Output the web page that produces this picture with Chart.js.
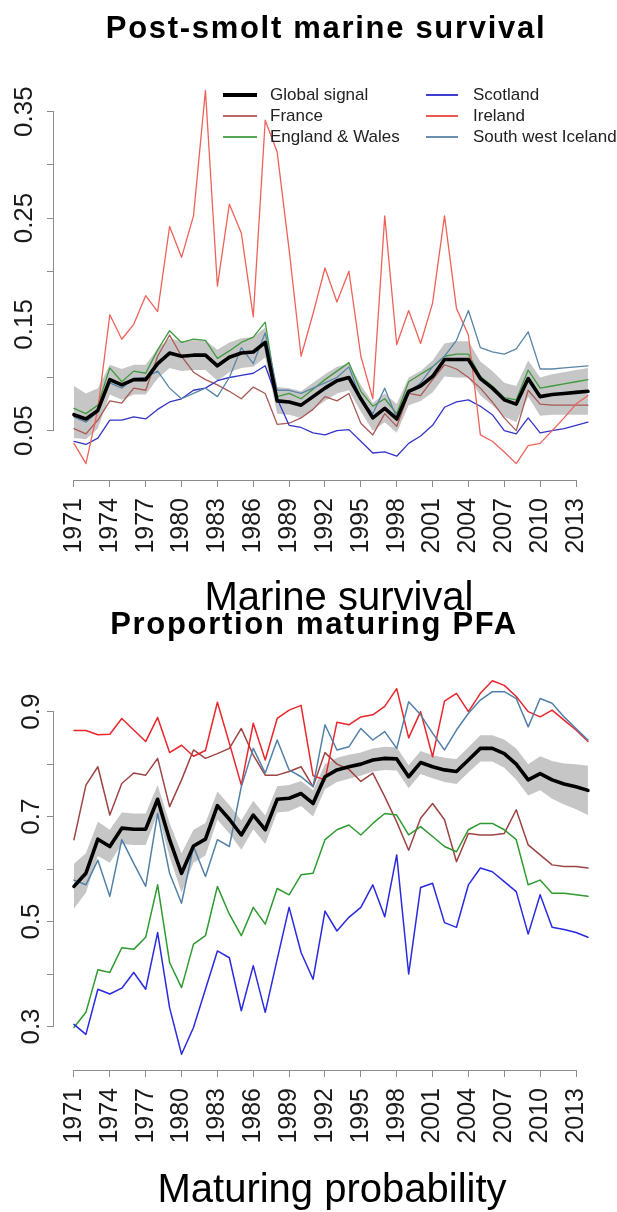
<!DOCTYPE html>
<html>
<head>
<meta charset="utf-8">
<script src="https://cdn.jsdelivr.net/npm/chart.js@4.4.1/dist/chart.umd.min.js"></script>
<style>
html,body{margin:0;padding:0;background:#fff;}
#wrap{position:relative;width:617px;height:1212px;overflow:hidden;font-family:"Liberation Sans",Arial,Helvetica,sans-serif;}
canvas{position:absolute;left:0;display:block;}
.t{position:absolute;white-space:nowrap;color:#000;z-index:5;}
.title{font-weight:bold;font-size:31px;line-height:31px;letter-spacing:1.7px;transform:translateX(-50%);}
.xlab{font-size:40px;line-height:40px;transform:translateX(-50%);}
.lg{position:absolute;font-size:17px;line-height:20px;color:#222;white-space:nowrap;z-index:5;}
.ll{position:absolute;z-index:5;}
</style>
</head>
<body>
<div id="wrap">
  <canvas id="c1" width="617" height="606" style="top:0px"></canvas>
  <canvas id="c2" width="617" height="606" style="top:606px"></canvas>

  <div class="t title" style="left:326px;top:12px;">Post-smolt marine survival</div>
  <div class="t xlab" style="left:339px;top:576px;">Marine survival</div>
  <div class="t title" style="left:314px;top:608px;">Proportion maturing PFA</div>
  <div class="t xlab" style="left:332px;top:1168px;">Maturing probability</div>

  <!-- legend (top panel) -->
  <div class="ll" style="left:223px;top:93px;width:34px;height:4px;background:#000;"></div>
  <div class="lg" style="left:270px;top:85px;">Global signal</div>
  <div class="ll" style="left:223px;top:115px;width:34px;height:2px;background:#b86a66;"></div>
  <div class="lg" style="left:270px;top:106px;">France</div>
  <div class="ll" style="left:223px;top:136px;width:34px;height:2px;background:#55a855;"></div>
  <div class="lg" style="left:270px;top:127px;">England &amp; Wales</div>
  <div class="ll" style="left:426px;top:94px;width:32px;height:2px;background:#3d3dd0;"></div>
  <div class="lg" style="left:473px;top:85px;">Scotland</div>
  <div class="ll" style="left:426px;top:115px;width:32px;height:2px;background:#ea5a52;"></div>
  <div class="lg" style="left:473px;top:106px;">Ireland</div>
  <div class="ll" style="left:426px;top:136px;width:32px;height:2px;background:#6a8fae;"></div>
  <div class="lg" style="left:473px;top:127px;">South west Iceland</div>
</div>

<script>
// ---------------- DATA ----------------
const years = [1971,1972,1973,1974,1975,1976,1977,1978,1979,1980,
               1981,1982,1983,1984,1985,1986,1987,1988,1989,1990,
               1991,1992,1993,1994,1995,1996,1997,1998,1999,2000,
               2001,2002,2003,2004,2005,2006,2007,2008,2009,2010,
               2011,2012,2013,2014];

const xTickYears = [1971,1974,1977,1980,1983,1986,1989,1992,1995,1998,2001,2004,2007,2010,2013];

// Panel 1: post-smolt marine survival
const msTickValues = [0.05,0.10,0.15,0.20,0.25,0.30,0.35];
const msTickLabels = ['0.05','','0.15','','0.25','','0.35'];

const msGlobal = [0.065,0.061,0.069,0.098,0.093,0.098,0.098,0.113,0.123,0.120,
                  0.121,0.121,0.111,0.119,0.123,0.124,0.133,0.078,0.077,0.074,
                  0.082,0.090,0.097,0.100,0.080,0.062,0.071,0.061,0.087,0.092,
                  0.101,0.117,0.117,0.117,0.099,0.090,0.079,0.075,0.099,0.082,
                  0.084,0.085,0.086,0.087];
const msGlobalUpper = [0.092,0.085,0.090,0.112,0.108,0.112,0.112,0.127,0.137,0.134,
                       0.135,0.135,0.126,0.133,0.137,0.138,0.147,0.091,0.090,0.087,
                       0.095,0.103,0.110,0.113,0.093,0.076,0.085,0.075,0.100,0.106,
                       0.116,0.132,0.134,0.134,0.115,0.106,0.095,0.092,0.116,0.100,
                       0.103,0.105,0.107,0.109];
const msGlobalLower = [0.043,0.042,0.052,0.084,0.079,0.084,0.084,0.099,0.109,0.106,
                       0.107,0.107,0.097,0.105,0.109,0.110,0.119,0.066,0.065,0.062,
                       0.070,0.078,0.085,0.088,0.068,0.050,0.058,0.048,0.074,0.078,
                       0.086,0.101,0.100,0.100,0.083,0.074,0.063,0.058,0.082,0.064,
                       0.065,0.065,0.065,0.065];
const msFrance = [0.052,0.047,0.060,0.078,0.076,0.090,0.088,0.120,0.140,0.120,
                  0.105,0.098,0.093,0.087,0.080,0.091,0.085,0.056,0.057,0.062,
                  0.070,0.082,0.078,0.085,0.057,0.046,0.066,0.054,0.085,0.083,
                  0.098,0.112,0.108,0.100,0.090,0.077,0.062,0.050,0.088,0.075,
                  0.074,0.074,0.074,0.074];
const msEngland = [0.071,0.066,0.074,0.109,0.096,0.106,0.104,0.126,0.144,0.133,
                   0.136,0.135,0.118,0.125,0.133,0.138,0.152,0.082,0.085,0.080,
                   0.089,0.098,0.106,0.114,0.087,0.073,0.080,0.066,0.096,0.103,
                   0.110,0.120,0.122,0.122,0.101,0.092,0.081,0.079,0.107,0.090,
                   0.092,0.094,0.096,0.098];
const msScotland = [0.040,0.037,0.043,0.060,0.060,0.063,0.061,0.070,0.077,0.080,
                    0.088,0.090,0.097,0.100,0.102,0.104,0.111,0.080,0.055,0.053,
                    0.048,0.046,0.050,0.051,0.040,0.029,0.030,0.026,0.038,0.045,
                    0.055,0.072,0.077,0.079,0.073,0.065,0.050,0.047,0.062,0.048,
                    0.050,0.052,0.055,0.058];
const msIreland = [0.038,0.019,0.070,0.159,0.136,0.150,0.177,0.162,0.242,0.213,
                   0.252,0.370,0.186,0.263,0.236,0.157,0.342,0.312,0.220,0.120,
                   0.160,0.203,0.171,0.200,0.120,0.080,0.252,0.131,0.163,0.132,
                   0.170,0.252,0.165,0.140,0.046,0.040,0.030,0.019,0.036,0.038,
                   0.050,0.062,0.075,0.083];
const msIceland = [0.063,0.058,0.068,0.095,0.090,0.099,0.100,0.106,0.090,0.080,
                   0.085,0.090,0.082,0.100,0.128,0.113,0.142,0.088,0.088,0.085,
                   0.090,0.095,0.100,0.110,0.080,0.066,0.090,0.062,0.085,0.095,
                   0.110,0.120,0.135,0.163,0.128,0.124,0.122,0.127,0.143,0.108,
                   0.108,0.109,0.110,0.111];

// Panel 2: proportion maturing PFA
const mpTickValues = [0.3,0.4,0.5,0.6,0.7,0.8,0.9];
const mpTickLabels = ['0.3','','0.5','','0.7','','0.9'];

const mpGlobal = [0.567,0.592,0.657,0.643,0.678,0.676,0.676,0.733,0.656,0.592,
                  0.644,0.657,0.721,0.695,0.665,0.703,0.675,0.733,0.735,0.744,
                  0.725,0.776,0.789,0.795,0.800,0.808,0.811,0.810,0.776,0.803,
                  0.795,0.789,0.786,0.808,0.830,0.830,0.820,0.800,0.770,0.782,
                  0.770,0.762,0.757,0.750];
const mpGlobalUpper = [0.610,0.630,0.690,0.675,0.708,0.706,0.706,0.760,0.688,0.630,
                       0.675,0.688,0.748,0.722,0.693,0.730,0.702,0.758,0.760,0.768,
                       0.750,0.800,0.812,0.818,0.822,0.830,0.833,0.832,0.798,0.825,
                       0.817,0.812,0.810,0.832,0.855,0.855,0.847,0.830,0.800,0.815,
                       0.806,0.801,0.800,0.797];
const mpGlobalLower = [0.525,0.555,0.625,0.612,0.648,0.646,0.646,0.706,0.624,0.555,
                       0.612,0.626,0.694,0.668,0.637,0.676,0.648,0.708,0.710,0.720,
                       0.700,0.752,0.766,0.772,0.778,0.786,0.789,0.788,0.754,0.781,
                       0.773,0.766,0.762,0.784,0.805,0.805,0.793,0.770,0.740,0.750,
                       0.734,0.723,0.714,0.703];
const mpFrance = [0.656,0.760,0.795,0.703,0.763,0.783,0.779,0.811,0.719,0.770,
                  0.827,0.811,0.820,0.830,0.868,0.817,0.779,0.779,0.786,0.795,
                  0.757,0.822,0.800,0.790,0.767,0.783,0.738,0.690,0.636,0.697,
                  0.725,0.694,0.614,0.668,0.665,0.665,0.668,0.713,0.646,0.627,
                  0.608,0.605,0.605,0.602];
const mpEngland = [0.298,0.327,0.408,0.403,0.450,0.447,0.470,0.570,0.422,0.374,
                   0.457,0.473,0.567,0.514,0.473,0.527,0.495,0.563,0.551,0.589,
                   0.592,0.656,0.675,0.684,0.665,0.687,0.706,0.703,0.665,0.681,
                   0.662,0.643,0.633,0.675,0.687,0.687,0.675,0.656,0.570,0.579,
                   0.554,0.554,0.551,0.548];
const mpScotland = [0.304,0.285,0.371,0.362,0.373,0.403,0.371,0.479,0.336,0.247,
                    0.298,0.371,0.444,0.431,0.330,0.416,0.327,0.428,0.527,0.441,
                    0.390,0.520,0.482,0.508,0.527,0.570,0.509,0.627,0.400,0.565,
                    0.573,0.498,0.489,0.570,0.602,0.595,0.576,0.557,0.476,0.551,
                    0.489,0.485,0.479,0.470];
const mpIreland = [0.864,0.864,0.856,0.857,0.887,0.865,0.843,0.889,0.822,0.836,
                   0.815,0.826,0.918,0.840,0.760,0.878,0.808,0.887,0.903,0.912,
                   0.778,0.770,0.880,0.875,0.890,0.894,0.910,0.944,0.850,0.900,
                   0.814,0.920,0.935,0.900,0.935,0.959,0.950,0.929,0.900,0.890,
                   0.903,0.884,0.865,0.843];
const mpIceland = [0.579,0.570,0.617,0.548,0.656,0.611,0.567,0.706,0.592,0.535,
                   0.643,0.586,0.656,0.643,0.757,0.830,0.783,0.846,0.789,0.776,
                   0.757,0.875,0.827,0.833,0.868,0.846,0.862,0.830,0.919,0.894,
                   0.859,0.827,0.865,0.897,0.922,0.938,0.938,0.925,0.871,0.925,
                   0.916,0.890,0.868,0.846];

// ---------------- RENDER ----------------
const FONT = '"Liberation Sans", Arial, Helvetica, sans-serif';
const AXIS_COLOR = '#8c8c8c';
const pts = arr => arr.map((v, i) => ({x: years[i], y: v}));

const rAxisPlugin = {
  id: 'rAxis',
  afterDraw(chart) {
    const {ctx, scales: {x, y}} = chart;
    ctx.save();
    ctx.strokeStyle = AXIS_COLOR;
    ctx.lineWidth = 1;
    const xa = x.getPixelForValue(x.ticks[0].value);
    const xb = x.getPixelForValue(x.ticks[x.ticks.length - 1].value);
    const ya = y.getPixelForValue(y.ticks[0].value);
    const yb = y.getPixelForValue(y.ticks[y.ticks.length - 1].value);
    ctx.beginPath();
    ctx.moveTo(xa, x.top + 0.5); ctx.lineTo(xb, x.top + 0.5);
    ctx.moveTo(y.right - 0.5, ya); ctx.lineTo(y.right - 0.5, yb);
    ctx.stroke();
    ctx.restore();
  }
};

function lineDS(label, arr, color, width, order) {
  return {label, data: pts(arr), borderColor: color, borderWidth: width,
          pointRadius: 0, fill: false, tension: 0, order,
          borderJoinStyle: 'round', borderCapStyle: 'round'};
}

function makeChart(id, cfg) {
  const ds = [
    {label: 'lower', data: pts(cfg.lower), borderWidth: 0, pointRadius: 0, fill: false,
     borderColor: 'rgba(0,0,0,0)', order: 30},
    {label: 'upper', data: pts(cfg.upper), borderWidth: 0, pointRadius: 0, fill: '-1',
     backgroundColor: '#c6c6c6', borderColor: 'rgba(0,0,0,0)', order: 29},
  ];
  cfg.series.forEach((s, i) => ds.push(lineDS(s[0], s[1], s[2], s[3], 20 - i)));
  ds.push(lineDS('Global signal', cfg.global, '#000000', 3.6, 1));

  return new Chart(document.getElementById(id), {
    type: 'line',
    data: {datasets: ds},
    plugins: [rAxisPlugin],
    options: {
      responsive: false, animation: false, devicePixelRatio: 1,
      layout: {padding: {left: 0, right: 0, top: cfg.padTop, bottom: 0}},
      plugins: {legend: {display: false}, tooltip: {enabled: false}},
      scales: {
        x: {
          type: 'linear', min: cfg.xmin, max: cfg.xmax,
          afterBuildTicks: s => { s.ticks = xTickYears.map(v => ({value: v})); },
          afterFit: s => { s.height = cfg.xAxisHeight; },
          grid: {display: true, drawOnChartArea: false, drawTicks: true, tickLength: 7,
                 color: AXIS_COLOR, lineWidth: 1},
          border: {display: false},
          ticks: {autoSkip: false, minRotation: 90, maxRotation: 90, padding: 11,
                  color: '#1a1a1a', font: {family: FONT, size: 25},
                  callback: v => String(v)}
        },
        y: {
          type: 'linear', min: cfg.ymin, max: cfg.ymax,
          afterBuildTicks: s => { s.ticks = cfg.yTicks.map(v => ({value: v})); },
          afterFit: s => { s.width = 54; },
          grid: {display: true, drawOnChartArea: false, drawTicks: true, tickLength: 7,
                 color: AXIS_COLOR, lineWidth: 1},
          border: {display: false},
          ticks: {autoSkip: false, minRotation: 90, maxRotation: 90, crossAlign: 'center',
                  padding: -3, color: '#1a1a1a', font: {family: FONT, size: 26},
                  callback: (v, i) => cfg.yLabels[i]}
        }
      }
    }
  });
}

makeChart('c1', {
  lower: msGlobalLower, upper: msGlobalUpper, global: msGlobal,
  series: [
    ['France', msFrance, '#a85a54', 1.3],
    ['England & Wales', msEngland, '#3f9a3f', 1.3],
    ['Scotland', msScotland, '#3434c8', 1.3],
    ['Ireland', msIreland, '#ee625a', 1.3],
    ['South west Iceland', msIceland, '#5a86a8', 1.3]
  ],
  xmin: 1969.33, xmax: 2015.29, ymin: 0.0036, ymax: 0.3845,
  padTop: 75, xAxisHeight: 126,
  yTicks: msTickValues, yLabels: msTickLabels
});

makeChart('c2', {
  lower: mpGlobalLower, upper: mpGlobalUpper, global: mpGlobal,
  series: [
    ['France', mpFrance, '#9e4444', 1.5],
    ['England & Wales', mpEngland, '#2f9a2f', 1.5],
    ['Scotland', mpScotland, '#2a2ae0', 1.5],
    ['Ireland', mpIreland, '#e8262c', 1.5],
    ['South west Iceland', mpIceland, '#5280a8', 1.5]
  ],
  xmin: 1969.33, xmax: 2015.29, ymin: 0.2171, ymax: 0.9832,
  padTop: 62, xAxisHeight: 142,
  yTicks: mpTickValues, yLabels: mpTickLabels
});
</script>
</body>
</html>
